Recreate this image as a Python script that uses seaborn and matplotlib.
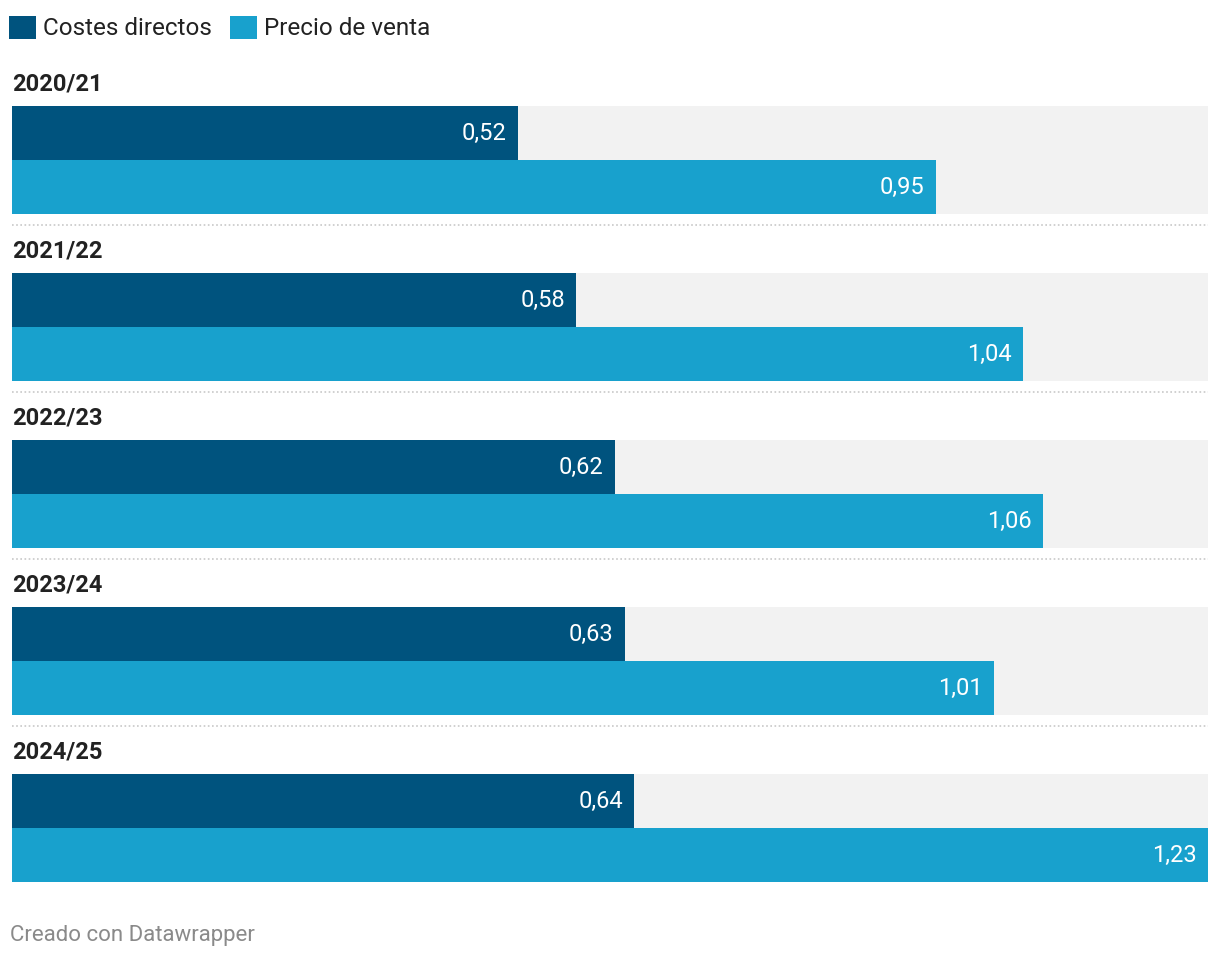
import matplotlib
matplotlib.use('Agg')
import matplotlib.pyplot as plt
import seaborn as sns
import pandas as pd

# datos
years = ['2020/21', '2021/22', '2022/23', '2023/24', '2024/25']
costes = [0.52, 0.58, 0.62, 0.63, 0.64]
precio = [0.95, 1.04, 1.06, 1.01, 1.23]
series = ['Costes directos', 'Precio de venta']
colors = ['#00537e', '#18a1cd']

sns.set_style('white')
plt.rcParams['font.family'] = ['Roboto', 'DejaVu Sans']

df = pd.DataFrame({
    'year': years * 2,
    'serie': [series[0]] * len(years) + [series[1]] * len(years),
    'value': costes + precio,
})
vmax = max(costes + precio)
bg = pd.DataFrame({'year': years, 'value': [vmax] * len(years)})

W, H = 1220, 958
fig = plt.figure(figsize=(W / 100, H / 100), dpi=100)
top_px, bot_px = 60, 900
ax = fig.add_axes([12 / W, 1 - bot_px / H, (1208 - 12) / W, (bot_px - top_px) / H])

width = 0.647
sns.barplot(data=bg, y='year', x='value', orient='h', color='#f2f2f2',
            width=width, ax=ax, saturation=1, linewidth=0)
sns.barplot(data=df, y='year', x='value', hue='serie', orient='h',
            palette=colors, width=width, ax=ax, saturation=1, linewidth=0)

step = 167.0
ax.set_xlim(0, vmax)
ax.set_ylim((bot_px - 160) / step, (top_px - 160) / step)
ax.axis('off')

# etiquetas de valores
for cont in ax.containers[1:]:
    for bar in cont:
        v = bar.get_width()
        ax.annotate(f'{v:.2f}'.replace('.', ','),
                    (v, bar.get_y() + bar.get_height() / 2),
                    xytext=(-8, 0), textcoords='offset points',
                    ha='right', va='center', color='white', fontsize=17)

# títulos de grupo y separadores
for i, y in enumerate(years):
    ax.text(0, i - 0.455, y, ha='left', va='center', fontsize=17,
            fontweight='bold', color='#222222')
    if i < len(years) - 1:
        ax.plot([0, vmax], [i + 0.39, i + 0.39], color='#c8c8c8',
                lw=1.2, ls=(0, (1, 1.5)), clip_on=False)

handles, labels = ax.get_legend_handles_labels()
ax.get_legend().remove()
fig.legend(handles, labels, loc='center left', bbox_to_anchor=(9 / W, 1 - 28 / H),
           ncol=2, frameon=False, fontsize=17.5, handlelength=1.1, handleheight=1.1,
           handletextpad=0.3, columnspacing=0.75, borderpad=0, borderaxespad=0,
           labelcolor='#222222')

fig.text(10 / W, 1 - 936 / H, 'Creado con Datawrapper', ha='left', va='center',
         fontsize=16, color='#8a8a8a')

plt.savefig('out.png', dpi=100)
plt.close('all')
